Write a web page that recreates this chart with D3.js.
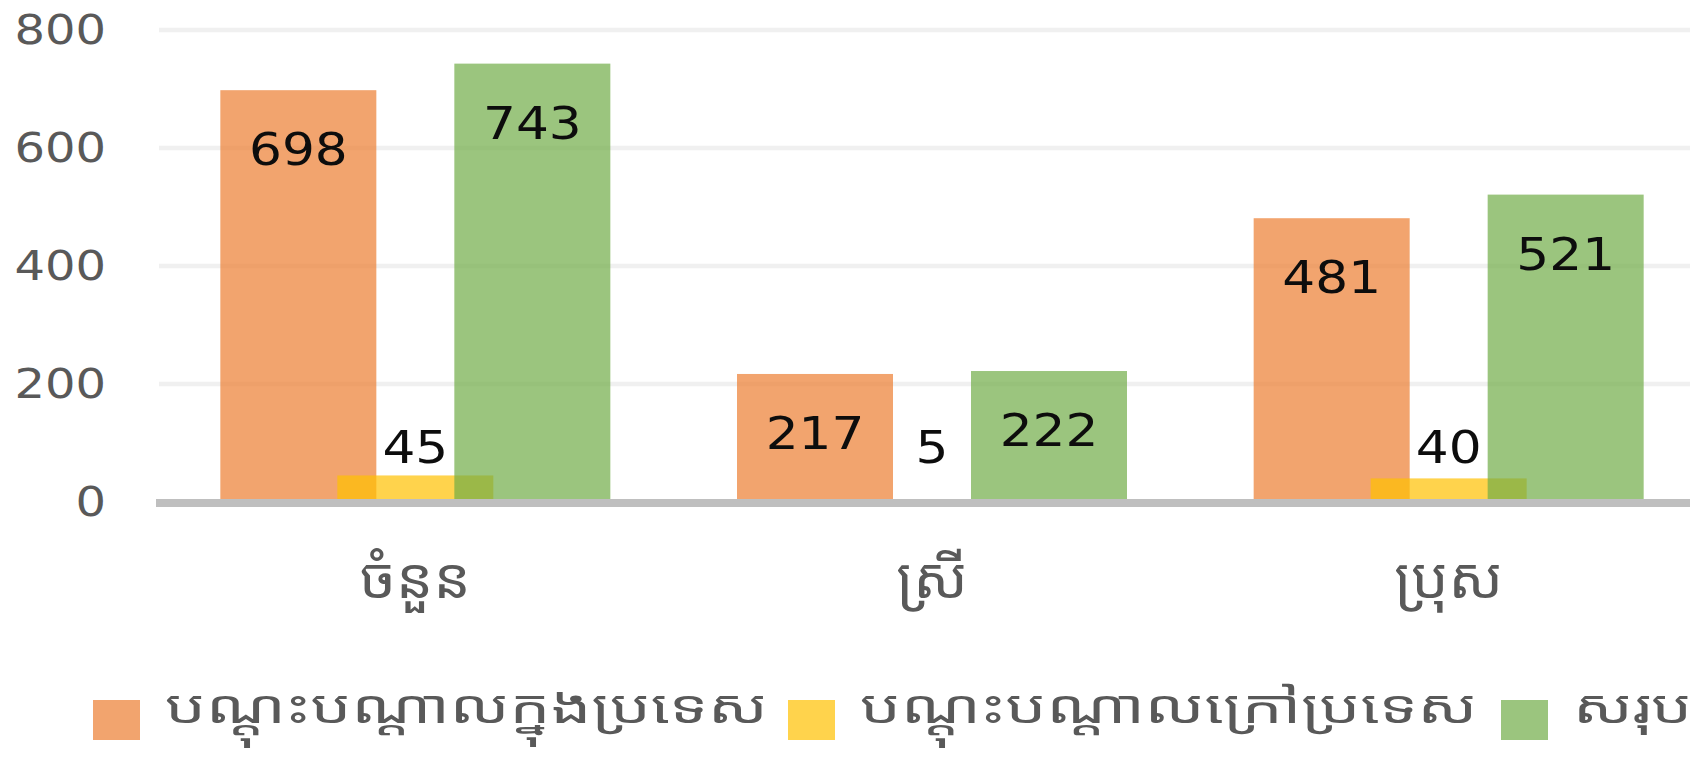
<!DOCTYPE html>
<html>
<head>
<meta charset="utf-8">
<script src="https://cdn.jsdelivr.net/npm/d3@7/dist/d3.min.js"></script>
<style>
  html, body { margin: 0; padding: 0; background: #fff; overflow: hidden; }
  svg { display: block; }
</style>
</head>
<body>
<svg id="chart" width="1690" height="757"></svg>
<script>
// ---- data ----
const categories = ["ចំនួន", "ស្រី", "ប្រុស"];
const seriesNames = ["បណ្ដុះបណ្ដាលក្នុងប្រទេស", "បណ្ដុះបណ្ដាលក្រៅប្រទេស", "សរុប"];
const inCountry = [698, 217, 481];
const abroad = [45, 5, 40];
const total = [743, 222, 521];
const yTicks = [0, 200, 400, 600, 800];

// ---- layout / style ----
const colors = ["#ED7D31", "#FFC000", "#70AD47"];
const barOpacity = 0.7;
const numFont = "'DejaVu Sans', Verdana, sans-serif";
const khmerFont = "'Noto Sans Khmer', 'Khmer OS', 'Khmer OS System', 'Khmer UI', 'Leelawadee UI', sans-serif";
const W = 1690, H = 757;
const plotLeft = 157, plotRightExt = 1707; // plot extends past the right edge (cropped)
const barW = 156, barStep = 117;

const svg = d3.select("#chart");
const seriesValues = [inCountry, abroad, total];

const x = d3.scaleBand().domain(categories).range([plotLeft, plotRightExt]).padding(0);
const xs = d3.scalePoint().domain(seriesNames).range([-barStep, barStep]);
const y = d3.scaleLinear().domain([0, 800]).range([502, 30]);

// gridlines
svg.append("g")
  .selectAll("line")
  .data(yTicks.filter(t => t > 0))
  .join("line")
  .attr("x1", 159).attr("x2", W)
  .attr("y1", d => y(d)).attr("y2", d => y(d))
  .attr("stroke", "#F0F0F0").attr("stroke-width", 4.5);

// y tick labels
svg.append("g")
  .selectAll("text")
  .data(yTicks)
  .join("text")
  .attr("transform", d => `translate(106,${y(d) + 14}) scale(1.2,1)`)
  .attr("text-anchor", "end")
  .attr("font-family", numFont)
  .attr("font-size", 40)
  .attr("fill", "#595959")
  .text(d => d);

// bars in series order (orange, yellow, green), green on top
const rows = [];
seriesNames.forEach((s, si) => {
  categories.forEach((c, ci) => {
    rows.push({ s, si, c, v: seriesValues[si][ci] });
  });
});

svg.append("g")
  .selectAll("rect")
  .data(rows)
  .join("rect")
  .attr("x", d => x(d.c) + x.bandwidth() / 2 + xs(d.s) - barW / 2)
  .attr("y", d => y(d.v))
  .attr("width", barW)
  .attr("height", d => y(0) - y(d.v))
  .attr("fill", d => colors[d.si])
  .attr("fill-opacity", barOpacity);

// axis line
svg.append("line")
  .attr("x1", 156).attr("x2", W)
  .attr("y1", y(0) + 1).attr("y2", y(0) + 1)
  .attr("stroke", "#BFBFBF").attr("stroke-width", 8);

// data labels
svg.append("g")
  .selectAll("text")
  .data(rows)
  .join("text")
  .attr("transform", d => {
    const cx = x(d.c) + x.bandwidth() / 2 + xs(d.s);
    const by = d.si === 1 ? y(0) - 39 : y(d.v) + 75;
    return `translate(${cx},${by}) scale(1.15,1)`;
  })
  .attr("text-anchor", "middle")
  .attr("font-family", numFont)
  .attr("font-size", 45)
  .attr("fill", "#0D0D0D")
  .text(d => d.v);

// category labels
svg.append("g")
  .selectAll("text")
  .data(categories)
  .join("text")
  .attr("transform", d => `translate(${x(d) + x.bandwidth() / 2},598) scale(1.05,1)`)
  .attr("text-anchor", "middle")
  .attr("font-family", khmerFont)
  .attr("font-size", 56)
  .attr("fill", "#595959")
  .text(d => d);

// legend
const legendX = [93, 788, 1501];
const lg = svg.append("g")
  .selectAll("g")
  .data(seriesNames)
  .join("g")
  .attr("transform", (d, i) => `translate(${legendX[i]},700)`);
lg.append("rect")
  .attr("width", 47).attr("height", 40)
  .attr("fill", (d, i) => colors[i])
  .attr("fill-opacity", barOpacity);
lg.append("text")
  .attr("transform", "translate(72,23) scale(1.4,1)")
  .attr("font-family", khmerFont)
  .attr("font-size", 46)
  .attr("fill", "#595959")
  .text(d => d);
</script>
</body>
</html>
